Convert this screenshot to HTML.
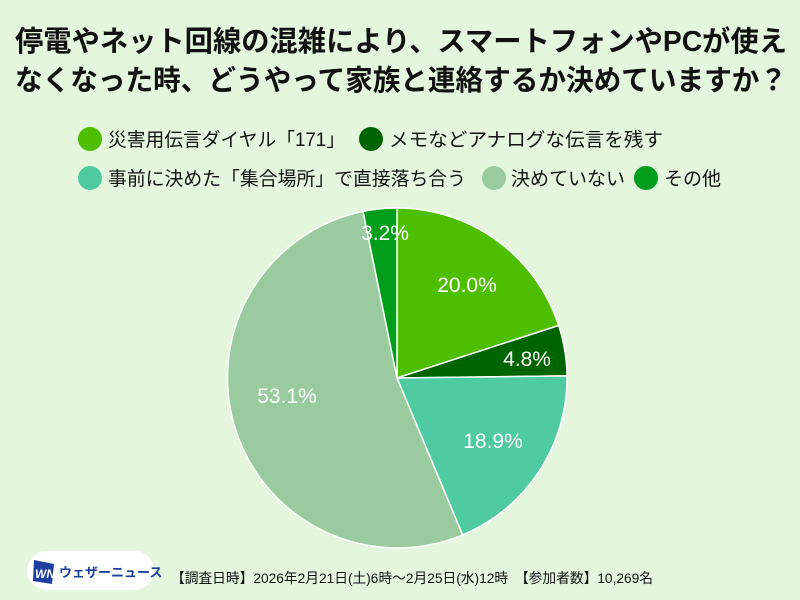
<!DOCTYPE html>
<html><head><meta charset="utf-8"><style>
body{margin:0;width:800px;height:600px;background:#e4f7de;overflow:hidden;font-family:"Liberation Sans","Noto Sans CJK JP",sans-serif;}
</style></head><body>
<svg width="800" height="600" xmlns="http://www.w3.org/2000/svg" style="position:absolute;left:0;top:0">
<rect width="800" height="600" fill="#e4f7de"/>
<g font-family="Liberation Sans, Noto Sans CJK JP, sans-serif" font-weight="bold" font-size="28.5" fill="#111" text-anchor="middle">
<text x="401" y="51" textLength="772" lengthAdjust="spacingAndGlyphs">停電やネット回線の混雑により、スマートフォンやPCが使え</text>
<text x="401" y="90" textLength="772" lengthAdjust="spacingAndGlyphs">なくなった時、どうやって家族と連絡するか決めていますか？</text>
</g>
<g font-family="Liberation Sans, Noto Sans CJK JP, sans-serif" font-size="19" fill="#111">
<circle cx="90" cy="139" r="12" fill="#4dbf00"/><text x="108" y="146" textLength="237" lengthAdjust="spacingAndGlyphs">災害用伝言ダイヤル「171」</text>
<circle cx="371" cy="139" r="12" fill="#006400"/><text x="389" y="146" textLength="274" lengthAdjust="spacingAndGlyphs">メモなどアナログな伝言を残す</text>
<circle cx="90" cy="178" r="12" fill="#4ecba0"/><text x="108" y="185" textLength="358" lengthAdjust="spacingAndGlyphs">事前に決めた「集合場所」で直接落ち合う</text>
<circle cx="494" cy="178" r="12" fill="#99cb9f"/><text x="511" y="185">決めていない</text>
<circle cx="646" cy="178" r="12" fill="#009e1a"/><text x="664" y="185">その他</text>
</g>
<g stroke="#fff" stroke-width="1.5">
<path d="M397,378 L397,208 A170,170 0 0 1 558.7,325.5 Z" fill="#4dbf00"/>
<path d="M397,378 L558.7,325.5 A170,170 0 0 1 567,375.9 Z" fill="#006400"/>
<path d="M397,378 L567,375.9 A170,170 0 0 1 462.6,534.9 Z" fill="#4ecba0"/>
<path d="M397,378 L462.6,534.9 A170,170 0 1 1 363,211.4 Z" fill="#99cb9f"/>
<path d="M397,378 L363,211.4 A170,170 0 0 1 397,208 Z" fill="#009e1a"/>
</g>
<g font-family="Liberation Sans, sans-serif" font-size="21" fill="#fff" text-anchor="middle">
<text x="467" y="292">20.0%</text>
<text x="527" y="366">4.8%</text>
<text x="493" y="448">18.9%</text>
<text x="287" y="403">53.1%</text>
<text x="385" y="240">3.2%</text>
</g>
<rect x="27" y="551" width="127" height="39" rx="19.5" fill="#fff"/>
<polygon points="34,560 54,564 52,584 33,581" fill="#1d3f9e"/>
<text x="35" y="578" font-family="Liberation Sans, sans-serif" font-style="italic" font-weight="bold" font-size="12" fill="#fff">WN</text>
<text x="59" y="577" font-family="Liberation Sans, Noto Sans CJK JP, sans-serif" font-weight="bold" font-size="13" fill="#1d3f9e">ウェザーニュース</text>
<text x="171" y="583" font-family="Liberation Sans, Noto Sans CJK JP, sans-serif" font-size="14" fill="#111" textLength="482" lengthAdjust="spacingAndGlyphs">【調査日時】2026年2月21日(土)6時～2月25日(水)12時　【参加者数】10,269名</text>
</svg>
</body></html>
